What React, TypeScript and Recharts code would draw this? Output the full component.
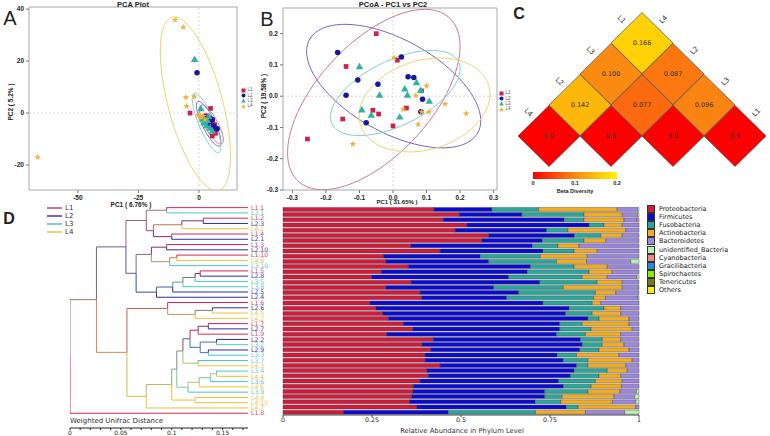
import React from "react";
import {
  Bar,
  BarChart,
  ReferenceArea,
  ReferenceLine,
  Scatter,
  ScatterChart,
  Symbols,
  XAxis,
  YAxis,
} from "recharts";

// ---------- shared groups
const groupNames = ["L1", "L2", "L3", "L4"];
const markerColors = ["#cf1f4e", "#15169e", "#2db1a5", "#f3ae2a"];
const ellipseColors = ["#c97a90", "#7467c4", "#7fcfd0", "#efd36c"];
const markerShapes = ["square", "circle", "triangle", "star"] as const;
const markerSizes = [22, 24, 24, 14];

// ---------- panel A: PCA scores [PC1, PC2]
const pcaL1 = [[-3.7, 0], [4.8, 1.8], [3, -1], [4.5, -2], [5.5, -3.5], [6.5, -4.5], [5, -5.5], [6, -6.5], [6.8, -7.8], [5.5, -8.8]];
const pcaL2 = [[-0.8, 15.5], [2, -1.5], [3, -2.5], [4, -1.8], [4.5, -3.2], [5.5, -2.5], [6, -5], [7.5, -6], [3.5, -4.5], [6.5, -5.8]];
const pcaL3 = [[-1.8, 20.5], [0.8, 1.5], [1.5, -2.5], [2.5, -3.5], [3.5, -3], [3, -5], [4.5, -6], [5.5, -7], [2, -4], [4, -1.5]];
const pcaL4 = [[-9.9, 35.8], [-6.5, 33], [-5.4, 6], [-1.9, 6.3], [-5.1, 2.7], [-66.6, -17], [-0.3, -0.8], [0.5, -1.5], [1.8, -1.2], [2.5, -2.5]];
// ellipse extremes: left, right, top, bottom
const pcaEllipses = [
  [[1, -2], [9.5, -7.5], [2.5, 3], [7.5, -11]],
  [[0, -1.5], [8.5, -8], [1, 4.5], [6.5, -11.5]],
  [[-1.5, -1], [8, -8], [-0.5, 7.8], [6.5, -14]],
  [[-15.8, 11.4], [11.4, -7.8], [-5.8, 37.3], [4.3, -26.8]],
];

// ---------- panel B: PCoA scores
const pcoaL1 = [[-0.05, 0.2], [-0.14, 0.095], [0.013, 0.115], [-0.255, -0.137], [-0.15, -0.073], [-0.06, -0.045], [-0.043, -0.057], [0, -0.095], [0.04, -0.038], [0.085, 0.017]];
const pcoaL2 = [[-0.165, 0.14], [0.025, 0.125], [-0.105, 0.052], [-0.045, 0.038], [0.045, 0.062], [0.062, 0.06], [-0.14, 0.003], [0.088, -0.01], [-0.08, -0.085], [0.083, -0.05]];
const pcoaL3 = [[-0.1, 0.093], [0.035, 0.022], [0.07, 0.042], [0.082, 0.017], [-0.04, 0.002], [0.043, 0.002], [0.108, -0.017], [-0.093, -0.045], [-0.065, -0.062], [0.02, -0.068]];
const pcoaL4 = [[0.003, 0.123], [0.1, 0.033], [0.068, 0.002], [0.155, -0.025], [0.03, -0.042], [0.085, -0.05], [0.107, -0.05], [0.075, -0.09], [-0.12, -0.153], [0.218, -0.055]];
const pcoaEllipses = [
  [[-0.3, -0.119], [0.198, 0.094], [0.001, 0.259], [-0.128, -0.277]],
  [[-0.273, 0.083], [0.23, -0.05], [-0.039, 0.234], [0.09, -0.138]],
  [[-0.17, -0.034], [0.206, 0.062], [0.041, 0.134], [-0.049, -0.121]],
  [[-0.099, -0.045], [0.285, -0.029], [0.13, 0.131], [0.06, -0.169]],
];

// ---------- panel C: beta diversity
const betaOrder = ["L4", "L2", "L3", "L1"];
const betaPairs = [["L4", "L4"], ["L2", "L2"], ["L3", "L3"], ["L1", "L1"], ["L4", "L2"], ["L2", "L3"], ["L3", "L1"], ["L4", "L3"], ["L2", "L1"], ["L4", "L1"]];
const betaValues = [0, 0, 0, 0, 0.142, 0.077, 0.096, 0.1, 0.087, 0.166];

// ---------- panel D: UPGMA tree [height, left, right]
type TNode = string | [number, TNode, TNode];
const tree: TNode = [0,
  [0.026,
    [0.055,
      [0.075, [0.095, "L1.1", "L3.1"], [0.082, [0.11, [0.131, "L1.2", "L2.3"], "L4.1"], [0.1, "L1.4", "L2.1"]]],
      [0.065,
        [0.08, [0.095, "L1.3", "L2.10"], [0.098, [0.105, "L1.10", "L4.8"], "L3.10"]],
        [0.085, [0.101, [0.111, [0.123, [0.128, "L1.5", "L2.8"], "L3.5"], "L3.8"], "L2.5"], "L2.4"]]],
    [0.056,
      [0.096, "L1.6", [0.123, [0.14, "L2.6", "L4.5"], "L4.2"]],
      [0.075,
        [0.1,
          [0.105,
            [0.111,
              [0.118, [0.126, [0.136, "L1.7", "L2.7"], "L1.9"], [0.128, [0.144, "L2.2", "L3.2"], [0.136, "L2.9", "L3.3"]]],
              [0.126, "L3.7", "L4.3"]],
            [0.116, [0.127, [0.138, [0.144, "L3.4", "L4.4"], "L3.6"], "L4.6"], "L3.9"]],
          [0.123, "L4.9", "L4.10"]],
        "L4.7"]]],
  "L1.8"];
const leafDistance = 0.175;
const distanceTicks = [0, 0.01, 0.02, 0.03, 0.04, 0.05, 0.06, 0.07, 0.08, 0.09, 0.1, 0.11, 0.12, 0.13, 0.14, 0.15, 0.16, 0.17];
const branchColors = ["#d3264e", "#2b2ba6", "#4cc6bd", "#f1bd36"];
const leafLabelColors = ["#cf4a6c", "#3a3aa6", "#62c9c9", "#f0bf48"];

const sampleOrder = ["L1.1", "L3.1", "L1.2", "L2.3", "L4.1", "L1.4", "L2.1", "L1.3", "L2.10", "L1.10", "L4.8", "L3.10", "L1.5", "L2.8", "L3.5", "L3.8", "L2.5", "L2.4", "L1.6", "L2.6", "L4.5", "L4.2", "L1.7", "L2.7", "L1.9", "L2.2", "L3.2", "L2.9", "L3.3", "L3.7", "L4.3", "L3.4", "L4.4", "L3.6", "L4.6", "L3.9", "L4.9", "L4.10", "L4.7", "L1.8"];
const proteo = [.423, .494, .449, .515, .482, .576, .557, .358, .44, .281, .288, .351, .276, .248, .359, .288, .384, .389, .243, .26, .279, .295, .337, .363, .29, .421, .389, .414, .398, .398, .44, .403, .407, .384, .365, .365, .36, .356, .376, .169];
const firmi = [.162, .175, .338, .342, .256, .24, .169, .34, .288, .271, .288, .342, .408, .384, .36, .302, .276, .238, .485, .541, .512, .559, .438, .412, .476, .412, .449, .417, .37, .387, .382, .412, .398, .388, .42, .37, .373, .354, .42, .294];
const fuso = [.131, .174, .056, .042, .06, .074, .117, .072, .087, .169, .19, .122, .173, .206, .161, .195, .215, .244, .138, .098, .075, .031, .063, .088, .081, .061, .056, .054, .054, .069, .032, .093, .08, .103, .078, .122, .049, .072, .033, .244];
const actino = [.22, .107, .112, .051, .162, .06, .061, .059, .065, .131, .084, .093, .065, .07, .07, .165, .057, .033, .024, .047, .08, .084, .131, .115, .099, .052, .061, .084, .119, .124, .106, .056, .061, .075, .085, .089, .145, .145, .162, .14];
const bactero = [.057, .043, .036, .047, .037, .047, .093, .168, .117, .145, .124, .089, .075, .083, .047, .045, .065, .091, .107, .051, .051, .028, .028, .019, .051, .051, .042, .028, .056, .019, .037, .033, .051, .047, .049, .047, .058, .066, .009, .11];
const unident = [.004, .004, 0, 0, 0, 0, 0, 0, 0, 0, .023, 0, 0, .006, 0, .002, 0, .003, 0, 0, 0, 0, 0, 0, 0, 0, 0, 0, 0, 0, 0, 0, 0, 0, 0, .007, .012, .009, 0, .04];
const cyano = [0, 0, .006, 0, 0, 0, 0, 0, 0, 0, 0, 0, 0, 0, 0, 0, 0, 0, 0, 0, 0, 0, 0, 0, 0, 0, 0, 0, 0, 0, 0, 0, 0, 0, 0, 0, 0, 0, 0, 0];
const phylumNames = ["Proteobacteria", "Firmicutes", "Fusobacteria", "Actinobacteria", "Bacteroidetes", "unidentified_Bacteria", "Cyanobacteria", "Gracilibacteria", "Spirochaetes", "Tenericutes", "Others"];
const phylumColors = ["#d01c3c", "#0b0bd0", "#2aa69a", "#f4ac22", "#9b86e0", "#b8f2b8", "#f08484", "#2288ee", "#88ee00", "#7a7a10", "#f4f000"];
const phylumSeries = [proteo, firmi, fuso, actino, bactero, unident, cyano];

// ---------- helpers
const toPts = (arr: number[][]) => arr.map(([x, y]) => ({ x, y }));

function ellipse(ext: number[][]) {
  const [L, R, T, B] = ext;
  const cx = (L[0] + R[0] + T[0] + B[0]) / 4;
  const cy = (L[1] + R[1] + T[1] + B[1]) / 4;
  const u = [(R[0] - L[0]) / 2, (R[1] - L[1]) / 2];
  const v = [(T[0] - B[0]) / 2, (T[1] - B[1]) / 2];
  return Array.from({ length: 81 }, (_, i) => {
    const t = (i / 80) * Math.PI * 2;
    return { x: cx + u[0] * Math.cos(t) + v[0] * Math.sin(t), y: cy + u[1] * Math.cos(t) + v[1] * Math.sin(t) };
  });
}

const hex = (c: string) => [1, 3, 5].map((i) => parseInt(c.slice(i, i + 2), 16));
const mix = (a: string, b: string) =>
  "#" + hex(a).map((v, i) => Math.round((v + hex(b)[i]) / 2).toString(16).padStart(2, "0")).join("");
const groupOf = (name: string) => Number(name[1]) - 1;

function treeSegments(root: TNode) {
  const segs: { color: string; pts: { x: number; y: number }[] }[] = [];
  let k = 0;
  const walk = (n: TNode): { x: number; y: number; color: string } => {
    if (typeof n === "string") {
      k += 1;
      return { x: leafDistance, y: k, color: branchColors[groupOf(n)] };
    }
    const [h, a, b] = n;
    const ca = walk(a);
    const cb = walk(b);
    const y = (ca.y + cb.y) / 2;
    for (const c of [ca, cb]) {
      segs.push({ color: c.color, pts: [{ x: h, y }, { x: h, y: c.y }, { x: c.x, y: c.y }] });
    }
    return { x: h, y, color: mix(ca.color, cb.color) };
  };
  walk(root);
  return segs;
}

function heatColor(v: number) {
  const stops = [[0, 255, 0, 0], [0.1, 250, 138, 18], [0.2, 255, 245, 0]];
  const t = Math.min(Math.max(v, 0), 0.2);
  const i = t <= 0.1 ? 0 : 1;
  const [x0, r0, g0, b0] = stops[i];
  const [x1, r1, g1, b1] = stops[i + 1];
  const f = (t - x0) / (x1 - x0);
  return `rgb(${Math.round(r0 + f * (r1 - r0))},${Math.round(g0 + f * (g1 - g0))},${Math.round(b0 + f * (b1 - b0))})`;
}

const noShape = () => <g />;
const markerShape = (i: number) => (p: any) => (
  <Symbols cx={p.cx} cy={p.cy} type={markerShapes[i]} size={markerSizes[i]} fill={markerColors[i]} />
);

type TxtProps = {
  x: number; y: number; children: React.ReactNode; size?: number; bold?: boolean;
  anchor?: "start" | "middle" | "end"; color?: string; rotate?: number; family?: string;
};
const Txt = ({ x, y, children, size = 7, bold = false, anchor = "middle", color = "#222", rotate = 0, family }: TxtProps) => (
  <div
    style={{
      position: "absolute", left: x, top: y, whiteSpace: "nowrap", lineHeight: 1,
      transform: `translate(${anchor === "middle" ? -50 : anchor === "end" ? -100 : 0}%, -50%) rotate(${rotate}deg)`,
      fontSize: size, fontWeight: bold ? 700 : 400, color, fontFamily: family,
    }}
  >
    {children}
  </div>
);

const Marker = ({ shape, color }: { shape: string; color: string }) => (
  <svg width={5} height={5} viewBox="0 0 10 10" style={{ display: "block" }}>
    {shape === "square" && <rect x={1} y={1} width={8} height={8} fill={color} />}
    {shape === "circle" && <circle cx={5} cy={5} r={4} fill={color} />}
    {shape === "triangle" && <polygon points="5,0.5 9.5,9 0.5,9" fill={color} />}
    {shape === "star" && <polygon points="5,0 6.2,3.6 10,3.8 7,6.1 8.1,10 5,7.7 1.9,10 3,6.1 0,3.8 3.8,3.6" fill={color} />}
  </svg>
);

const GroupLegend = ({ x, y }: { x: number; y: number }) => (
  <div style={{ position: "absolute", left: x, top: y }}>
    {groupNames.map((g, i) => (
      <div key={g} style={{ display: "flex", alignItems: "center", height: 5.2, gap: 1.5 }}>
        <Marker shape={markerShapes[i]} color={markerColors[i]} />
        <span style={{ fontSize: 4.5, color: "#555", lineHeight: 1 }}>{g}</span>
      </div>
    ))}
  </div>
);

const axisTick = { fontSize: 6.5, fill: "#222", fontWeight: 700 };

function OrdinationPlot(props: {
  series: number[][][]; ellipses: number[][][][]; xDomain: number[]; yDomain: number[];
  xTicks: number[]; yTicks: number[]; fmt?: (v: number) => string; width: number; yWidth: number;
  top: number; right: number;
}) {
  const { series, ellipses, xDomain, yDomain, xTicks, yTicks, fmt, width, yWidth, top, right } = props;
  return (
    <ScatterChart width={width} height={215} margin={{ top, right, left: 0, bottom: 0 }}>
      <XAxis type="number" dataKey="x" domain={xDomain} ticks={xTicks} interval={0} allowDataOverflow height={215 - 190}
        axisLine={false} tickSize={3} tickLine={{ stroke: "#777" }} tick={axisTick} tickFormatter={fmt} />
      <YAxis type="number" dataKey="y" domain={yDomain} ticks={yTicks} interval={0} allowDataOverflow width={yWidth}
        axisLine={false} tickSize={3} tickLine={{ stroke: "#777" }} tick={axisTick} tickFormatter={fmt} />
      <ReferenceLine x={0} stroke="#d8d8d8" strokeDasharray="2 2" />
      <ReferenceLine y={0} stroke="#d8d8d8" strokeDasharray="2 2" />
      <ReferenceArea x1={xDomain[0]} x2={xDomain[1]} y1={yDomain[0]} y2={yDomain[1]} fill="none" stroke="#a8a8a8" />
      {ellipses.map((e, i) => (
        <Scatter key={`e${i}`} data={ellipse(e)} line={{ stroke: ellipseColors[i], strokeWidth: 1 }} shape={noShape}
          isAnimationActive={false} legendType="none" />
      ))}
      {series.map((s, i) => (
        <Scatter key={`s${i}`} data={toPts(s)} fill={markerColors[i]} shape={markerShape(i)} isAnimationActive={false} />
      ))}
    </ScatterChart>
  );
}

const fmt1 = (v: number) => (Math.abs(v) < 1e-9 ? "0.0" : v.toFixed(1));

const Diamond = (p: any) => {
  const { cx, cy, payload } = p;
  return (
    <g>
      <polygon points={`${cx},${cy - 30.5} ${cx + 31},${cy} ${cx},${cy + 30.5} ${cx - 31},${cy}`}
        fill={heatColor(payload.v)} stroke="#3a3a3a" strokeWidth={0.6} />
      <text x={cx} y={cy} dy={2.3} textAnchor="middle" fontSize={6.5} fill="#333" fontFamily="DejaVu Sans">
        {payload.v === 0 ? "0.0" : payload.v.toFixed(3)}
      </text>
    </g>
  );
};

export default function App() {
  const betaCells = betaPairs.map(([a, b], i) => {
    const ia = betaOrder.indexOf(a);
    const ib = betaOrder.indexOf(b);
    return { x: (ia + ib) / 2, y: ib - ia, v: betaValues[i] };
  });
  const segs = treeSegments(tree);
  const leafIdx = sampleOrder.map((_, i) => i + 1);
  const barData = sampleOrder.map((name, i) => {
    const row: Record<string, number | string> = { name };
    phylumSeries.forEach((s, j) => (row[phylumNames[j]] = s[i]));
    return row;
  });

  const LeafTick = (p: any) => {
    const name = sampleOrder[p.payload.value - 1];
    return (
      <text x={p.x + 1} y={p.y} dy={2.2} fontSize={6.2} fill={leafLabelColors[groupOf(name)]} fontFamily="DejaVu Sans">
        {name}
      </text>
    );
  };

  return (
    <div style={{ position: "absolute", left: 0, top: 0, width: 770, height: 436, background: "#fff",
      fontFamily: "'Liberation Sans', Arial, sans-serif", overflow: "hidden" }}>
      {/* A */}
      <div style={{ position: "absolute", left: 0, top: 0 }}>
        <OrdinationPlot series={[pcaL1, pcaL2, pcaL3, pcaL4]} ellipses={pcaEllipses} xDomain={[-70.2, 15.7]}
          yDomain={[-29.6, 40.8]} xTicks={[-50, -25, 0]} yTicks={[-20, 0, 20, 40]} width={260} yWidth={29} top={7} right={23} />
      </div>
      <Txt x={133} y={4.5} size={7.5} bold>PCA Plot</Txt>
      <Txt x={131} y={204.5} size={6.5} bold>PC1 ( 6.76% )</Txt>
      <Txt x={11} y={102} size={6.5} bold rotate={-90}>PC2 ( 5.2% )</Txt>
      <GroupLegend x={241} y={88} />
      <Txt x={10} y={18} size={20}>A</Txt>

      {/* B */}
      <div style={{ position: "absolute", left: 250, top: 0 }}>
        <OrdinationPlot series={[pcoaL1, pcoaL2, pcoaL3, pcoaL4]} ellipses={pcoaEllipses} xDomain={[-0.328, 0.31]}
          yDomain={[-0.3, 0.282]} xTicks={[-0.3, -0.2, -0.1, 0, 0.1, 0.2, 0.3]} yTicks={[-0.3, -0.2, -0.1, 0, 0.1, 0.2]}
          fmt={fmt1} width={270} yWidth={33} top={8} right={23} />
      </div>
      <Txt x={393} y={4.5} size={7.5} bold>PCoA - PC1 vs PC2</Txt>
      <Txt x={397} y={202} size={6} bold>PC1 ( 31.65% )</Txt>
      <Txt x={264} y={96} size={6.5} bold rotate={-90}>PC2 ( 19.58% )</Txt>
      <GroupLegend x={499} y={91} />
      <Txt x={267} y={19} size={20}>B</Txt>

      {/* C */}
      <div style={{ position: "absolute", left: 510, top: 0 }}>
        <ScatterChart width={260} height={200} margin={{ top: 12, right: 4, left: 8, bottom: 33 }}>
          <XAxis type="number" dataKey="x" domain={[-0.5, 3.5]} hide allowDataOverflow />
          <YAxis type="number" dataKey="y" domain={[-1, 4]} hide allowDataOverflow />
          <Scatter data={betaCells} shape={Diamond} isAnimationActive={false} />
        </ScatterChart>
      </div>
      <Txt x={519} y={14} size={16} bold>C</Txt>
      {[[528, 113], [559, 82], [590, 51], [621, 20]].map(([x, y], i) => (
        <Txt key={`cl${i}`} x={x} y={y} size={7} color="#333" rotate={45} family="DejaVu Sans">{betaOrder[i]}</Txt>
      ))}
      {[[664, 20], [695, 51], [726, 82], [757, 113]].map(([x, y], i) => (
        <Txt key={`cr${i}`} x={x} y={y} size={7} color="#333" rotate={-45} family="DejaVu Sans">{betaOrder[i]}</Txt>
      ))}
      <div style={{ position: "absolute", left: 533, top: 172, width: 84, height: 7,
        background: `linear-gradient(to right, ${heatColor(0)}, ${heatColor(0.1)}, ${heatColor(0.2)})` }} />
      <Txt x={533} y={184} size={5.5} bold>0</Txt>
      <Txt x={575} y={184} size={5.5} bold>0.1</Txt>
      <Txt x={617} y={184} size={5.5} bold>0.2</Txt>
      <Txt x={575} y={192} size={5.5} bold>Beta Diversity</Txt>

      {/* D: dendrogram */}
      <div style={{ position: "absolute", left: 0, top: 200 }}>
        <ScatterChart width={280} height={236} margin={{ top: 5, right: 0, left: 70, bottom: 0 }}>
          <XAxis type="number" dataKey="x" domain={[0, leafDistance]} ticks={distanceTicks} interval={0} allowDataOverflow
            height={8} tickSize={2} tickMargin={1} axisLine={{ stroke: "#222" }} tickLine={{ stroke: "#222" }}
            tick={{ fontSize: 6, fill: "#222", fontFamily: "DejaVu Sans" }}
            tickFormatter={(v: number) => ([0, 0.05, 0.1, 0.15].some((t) => Math.abs(t - v) < 1e-9) ? String(v) : "")} />
          <YAxis yAxisId="leaf" orientation="right" type="number" dataKey="y" domain={[0.5, 42.8]} reversed allowDataOverflow
            ticks={leafIdx} interval={0} width={32} axisLine={false} tickLine={false} tickSize={0} tickMargin={2} tick={LeafTick} />
          {segs.map((s, i) => (
            <Scatter key={i} yAxisId="leaf" data={s.pts} line={{ stroke: s.color, strokeWidth: 1 }} shape={noShape}
              isAnimationActive={false} legendType="none" />
          ))}
        </ScatterChart>
      </div>
      <Txt x={70} y={421} size={7} anchor="start" color="#333" family="DejaVu Sans">Weighted Unifrac Distance</Txt>
      <div style={{ position: "absolute", left: 47, top: 204 }}>
        {groupNames.map((g, i) => (
          <div key={g} style={{ display: "flex", alignItems: "center", height: 8, gap: 3 }}>
            <div style={{ width: 15, height: 1.3, background: ellipseColors[i] }} />
            <span style={{ fontSize: 7, color: "#333", fontFamily: "DejaVu Sans" }}>{g}</span>
          </div>
        ))}
      </div>
      <Txt x={9} y={219} size={16} bold>D</Txt>

      {/* D: stacked bars */}
      <div style={{ position: "absolute", left: 270, top: 200 }}>
        <BarChart width={375} height={236} data={barData} layout="vertical" stackOffset="expand" barCategoryGap={0.4}
          margin={{ top: 7, right: 6, left: 13, bottom: 0 }}>
          <XAxis type="number" domain={[0, 1]} ticks={[0, 0.25, 0.5, 0.75, 1]} interval={0} height={21} tickSize={2}
            tickMargin={1} axisLine={{ stroke: "#444" }} tickLine={{ stroke: "#444" }}
            tick={{ fontSize: 6.3, fill: "#222", fontFamily: "DejaVu Sans" }} />
          <YAxis type="category" dataKey="name" hide />
          {phylumSeries.map((_, j) => (
            <Bar key={phylumNames[j]} dataKey={phylumNames[j]} stackId="a" fill={phylumColors[j]} stroke="#3a3a3a"
              strokeWidth={0.4} isAnimationActive={false} />
          ))}
        </BarChart>
      </div>
      <Txt x={462} y={430.5} size={6.8} color="#333" family="DejaVu Sans">Relative Abundance in Phylum Level</Txt>
      <div style={{ position: "absolute", left: 647, top: 205 }}>
        {phylumNames.map((n, i) => (
          <div key={n} style={{ display: "flex", alignItems: "center", height: 8.1, gap: 4 }}>
            <div style={{ width: 6, height: 6, background: phylumColors[i], border: "0.8px solid #333" }} />
            <span style={{ fontSize: 6.5, color: "#222", fontFamily: "DejaVu Sans" }}>{n}</span>
          </div>
        ))}
      </div>
    </div>
  );
}
